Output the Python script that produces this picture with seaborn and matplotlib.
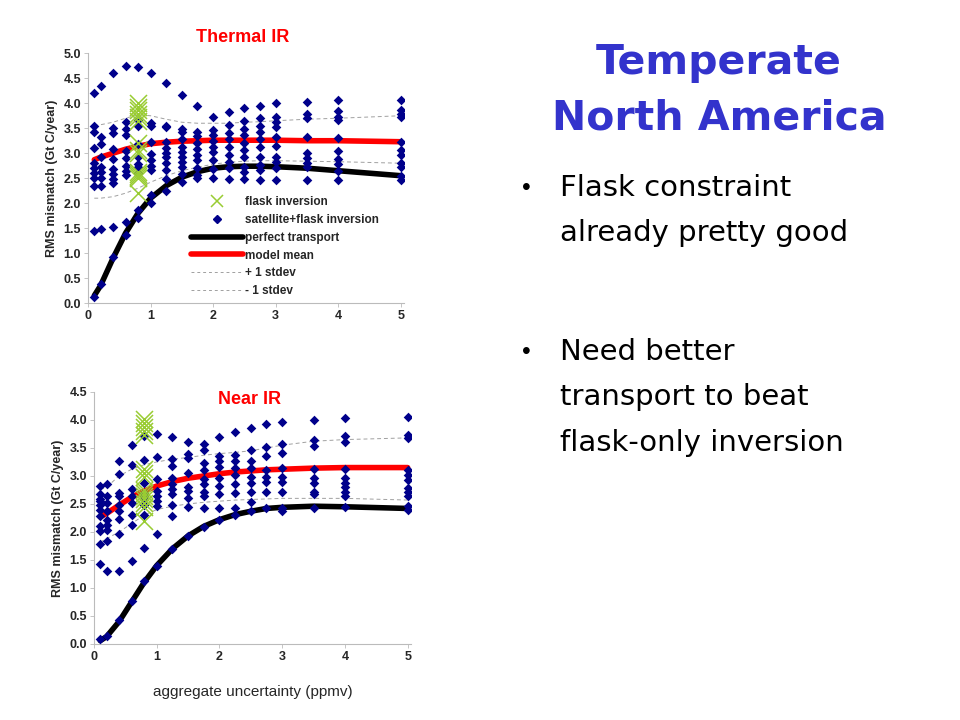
import numpy as np
import pandas as pd
import matplotlib
matplotlib.use("Agg")
import matplotlib.pyplot as plt
from matplotlib.lines import Line2D
import seaborn as sns

# aggregate uncertainty columns (ppmv)
x_cols = [0.1, 0.2, 0.4, 0.6, 0.8, 1.0, 1.25, 1.5, 1.75, 2.0, 2.25, 2.5, 2.75, 3.0, 3.5, 4.0, 5.0]
flask_x = 0.8

# Thermal IR - satellite+flask inversion points, one list per column
thermal_sat = [
    [4.2, 3.55, 3.42, 3.1, 2.8, 2.7, 2.6, 2.5, 2.35, 1.45, 0.13],
    [4.35, 3.33, 3.18, 2.93, 2.73, 2.62, 2.5, 2.35, 1.48, 0.38],
    [4.6, 3.5, 3.4, 3.08, 2.88, 2.68, 2.58, 2.48, 2.4, 1.52, 0.92],
    [4.75, 3.63, 3.48, 3.37, 3.05, 2.9, 2.75, 2.65, 2.57, 1.63, 1.37],
    [4.73, 3.67, 3.55, 3.18, 2.93, 2.78, 2.73, 2.6, 1.87, 1.7],
    [4.6, 3.6, 3.55, 3.22, 2.98, 2.87, 2.75, 2.67, 2.17, 2.0],
    [4.4, 3.55, 3.52, 3.23, 3.1, 3.0, 2.92, 2.8, 2.67, 2.48, 2.25],
    [4.17, 3.48, 3.42, 3.28, 3.13, 3.03, 2.93, 2.83, 2.72, 2.58, 2.42],
    [3.95, 3.43, 3.35, 3.2, 3.08, 2.97, 2.87, 2.7, 2.57, 2.5],
    [3.73, 3.47, 3.37, 3.25, 3.13, 3.02, 2.87, 2.68, 2.5],
    [3.83, 3.57, 3.41, 3.28, 3.13, 2.97, 2.83, 2.7, 2.48],
    [3.9, 3.65, 3.48, 3.37, 3.21, 3.07, 2.92, 2.73, 2.63, 2.48],
    [3.95, 3.7, 3.55, 3.43, 3.29, 3.12, 2.92, 2.77, 2.67, 2.47],
    [4.0, 3.73, 3.62, 3.52, 3.32, 3.15, 2.93, 2.83, 2.7, 2.47],
    [4.03, 3.79, 3.7, 3.32, 3.0, 2.9, 2.8, 2.73, 2.47],
    [4.07, 3.85, 3.73, 3.67, 3.3, 3.05, 2.88, 2.78, 2.65, 2.47],
    [4.07, 3.87, 3.79, 3.73, 3.23, 3.07, 2.97, 2.8, 2.73, 2.55, 2.47],
]
thermal_flask = [4.0, 3.93, 3.86, 3.79, 3.72, 3.65, 3.2, 3.07, 3.0, 2.62, 2.58, 2.54, 2.5, 2.2]
thermal_perfect = [0.15, 0.35, 0.9, 1.4, 1.8, 2.1, 2.35, 2.52, 2.63, 2.7, 2.73, 2.74, 2.74, 2.73, 2.7, 2.65, 2.55]
thermal_mean = [2.87, 2.92, 3.0, 3.08, 3.14, 3.19, 3.22, 3.24, 3.25, 3.26, 3.26, 3.26, 3.26, 3.26, 3.25, 3.25, 3.23]
thermal_plus = [3.55, 3.57, 3.62, 3.7, 3.77, 3.75, 3.68, 3.62, 3.6, 3.6, 3.6, 3.62, 3.63, 3.65, 3.68, 3.7, 3.75]
thermal_minus = [2.1, 2.1, 2.13, 2.2, 2.3, 2.42, 2.55, 2.65, 2.72, 2.78, 2.82, 2.84, 2.85, 2.85, 2.84, 2.83, 2.8]

# Near IR
near_sat = [
    [2.82, 2.68, 2.59, 2.55, 2.49, 2.4, 2.28, 2.1, 2.01, 1.79, 1.43, 0.09],
    [2.86, 2.64, 2.52, 2.37, 2.22, 2.13, 2.04, 1.83, 1.31, 0.15],
    [3.27, 3.04, 2.7, 2.65, 2.49, 2.37, 2.23, 1.96, 1.31, 0.43],
    [3.55, 3.2, 2.77, 2.65, 2.51, 2.31, 2.13, 1.48, 0.76],
    [3.71, 3.29, 2.87, 2.7, 2.64, 2.59, 2.49, 2.31, 1.71, 1.12],
    [3.75, 3.34, 2.95, 2.74, 2.65, 2.56, 2.47, 1.96, 1.4],
    [3.7, 3.31, 3.18, 2.96, 2.86, 2.76, 2.67, 2.49, 2.28, 1.7],
    [3.61, 3.4, 3.32, 3.05, 2.8, 2.73, 2.6, 2.44, 1.92],
    [3.57, 3.47, 3.24, 3.11, 2.95, 2.85, 2.71, 2.64, 2.43, 2.08],
    [3.69, 3.36, 3.26, 3.16, 2.96, 2.82, 2.67, 2.43, 2.22],
    [3.78, 3.37, 3.26, 3.14, 3.02, 2.85, 2.7, 2.43, 2.31],
    [3.86, 3.46, 3.26, 3.14, 2.99, 2.88, 2.71, 2.53, 2.38],
    [3.93, 3.52, 3.35, 3.11, 2.99, 2.89, 2.71, 2.43],
    [3.96, 3.57, 3.41, 3.14, 2.99, 2.9, 2.71, 2.43, 2.38],
    [4.0, 3.65, 3.53, 3.12, 2.96, 2.88, 2.71, 2.67, 2.43],
    [4.04, 3.71, 3.61, 3.12, 2.96, 2.88, 2.8, 2.71, 2.64, 2.45],
    [4.05, 3.74, 3.68, 3.11, 3.02, 2.93, 2.79, 2.71, 2.64, 2.46, 2.4],
]
near_flask = [4.02, 3.95, 3.88, 3.8, 3.73, 3.12, 3.05, 2.98, 2.75, 2.7, 2.65, 2.58, 2.52, 2.45, 2.2]
near_perfect = [0.06, 0.13, 0.4, 0.75, 1.1, 1.4, 1.7, 1.93, 2.1, 2.22, 2.31, 2.37, 2.42, 2.44, 2.46, 2.45, 2.42]
near_mean = [2.27, 2.33, 2.48, 2.62, 2.73, 2.82, 2.9, 2.96, 3.0, 3.04, 3.07, 3.09, 3.11, 3.12, 3.14, 3.15, 3.15]
near_plus = [2.76, 2.8, 3.0, 3.12, 3.2, 3.25, 3.3, 3.33, 3.37, 3.4, 3.42, 3.45, 3.5, 3.55, 3.62, 3.65, 3.68]
near_minus = [1.82, 1.88, 2.0, 2.15, 2.3, 2.4, 2.46, 2.5, 2.53, 2.55, 2.57, 2.58, 2.59, 2.6, 2.6, 2.6, 2.57]

NAVY = "#00008B"
GREEN = "#99CC33"
RED = "#FF0000"
GREY = "#A0A0A0"

sns.set_theme(style="white")
plt.rcParams['font.family'] = ['Liberation Sans', 'DejaVu Sans']


def draw_panel(ax, sat, flask, perfect, mean, plus, minus, ymax, title, title_y):
    sat_df = pd.DataFrame([(x, v) for x, col in zip(x_cols, sat) for v in col], columns=['x', 'y'])
    flask_df = pd.DataFrame({'x': [flask_x] * len(flask), 'y': flask})
    lines = pd.DataFrame({'x': x_cols, 'perfect': perfect, 'mean': mean, 'plus': plus, 'minus': minus})

    sns.lineplot(data=lines, x='x', y='plus', ax=ax, color=GREY, lw=0.7, dashes=(4, 3), zorder=1)
    sns.lineplot(data=lines, x='x', y='minus', ax=ax, color=GREY, lw=0.7, dashes=(4, 3), zorder=1)
    sns.scatterplot(data=sat_df, x='x', y='y', ax=ax, marker='D', s=24, color=NAVY,
                    edgecolor=NAVY, linewidth=0, zorder=3)
    sns.lineplot(data=lines, x='x', y='perfect', ax=ax, color='black', lw=4, zorder=2)
    sns.lineplot(data=lines, x='x', y='mean', ax=ax, color=RED, lw=4, zorder=2)
    sns.scatterplot(data=flask_df, x='x', y='y', ax=ax, marker='x', s=150, color=GREEN,
                    linewidth=1.1, zorder=4)

    ax.set_xlim(0, 5.05)
    ax.set_ylim(0, ymax)
    ax.set_xticks([0, 1, 2, 3, 4, 5])
    ax.set_yticks(np.arange(0, ymax + 0.01, 0.5))
    ax.set_yticklabels([f"{v:.1f}" for v in np.arange(0, ymax + 0.01, 0.5)])
    for lab in ax.get_xticklabels() + ax.get_yticklabels():
        lab.set_fontweight('bold')
        lab.set_fontsize(9)
    ax.tick_params(axis='both', length=3, width=0.6, color='#BBBBBB', pad=2,
                   left=True, bottom=True)
    for side in ['top', 'right']:
        ax.spines[side].set_visible(False)
    for side in ['left', 'bottom']:
        ax.spines[side].set_color('#BBBBBB')
        ax.spines[side].set_linewidth(0.8)
    ax.set_xlabel('')
    ax.set_ylabel('RMS mismatch (Gt C/year)', fontsize=9, fontweight='bold', labelpad=4)
    ax.text(0.49, title_y, title, transform=ax.transAxes, ha='center', va='center',
            color=RED, fontsize=13, fontweight='bold')


fig = plt.figure(figsize=(9.6, 7.2), dpi=100)
fig.patch.set_facecolor('white')

ax1 = fig.add_axes([0.0917, 0.579, 0.329, 0.347])
draw_panel(ax1, thermal_sat, thermal_flask, thermal_perfect, thermal_mean,
           thermal_plus, thermal_minus, 5.0, 'Thermal IR', 1.065)

handles = [
    Line2D([], [], marker='x', color=GREEN, lw=0, markersize=9, markeredgewidth=1.1),
    Line2D([], [], marker='D', color=NAVY, lw=0, markersize=4.5),
    Line2D([], [], color='black', lw=4),
    Line2D([], [], color=RED, lw=4),
    Line2D([], [], color=GREY, lw=0.7, dashes=(3, 3)),
    Line2D([], [], color=GREY, lw=0.7, dashes=(3, 3)),
]
labels = ['flask inversion', 'satellite+flask inversion', 'perfect transport',
          'model mean', '+ 1 stdev', '- 1 stdev']
leg = ax1.legend(handles, labels, loc='lower left', bbox_to_anchor=(0.3, -0.01),
                 frameon=False, fontsize=8.5, handlelength=4.4, handletextpad=0.2,
                 labelspacing=0.5, borderaxespad=0.3)
for t in leg.get_texts():
    t.set_fontweight('bold')

ax2 = fig.add_axes([0.0979, 0.1056, 0.330, 0.35])
draw_panel(ax2, near_sat, near_flask, near_perfect, near_mean,
           near_plus, near_minus, 4.5, 'Near IR', 0.97)
ax2.set_xlabel('aggregate uncertainty (ppmv)', fontsize=11, labelpad=16)

# slide text on the right
for txt, yy in [('Temperate', 0.913), ('North America', 0.835)]:
    fig.text(0.749, yy, txt, ha='center', va='center', fontsize=29.5,
             fontweight='bold', color='#3333CC', family=['DejaVu Sans'])

bullets = [
    (0.739, ['Flask constraint', 'already pretty good']),
    (0.511, ['Need better', 'transport to beat', 'flask-only inversion']),
]
for y0, lines_ in bullets:
    fig.text(0.548, y0, '\u2022', ha='center', va='center', fontsize=18, color='black')
    for i, ln in enumerate(lines_):
        fig.text(0.583, y0 - i * 0.063, ln, ha='left', va='center', fontsize=21,
                 color='black', family=['DejaVu Sans'])

fig.savefig('out.png', dpi=100, facecolor='white')
